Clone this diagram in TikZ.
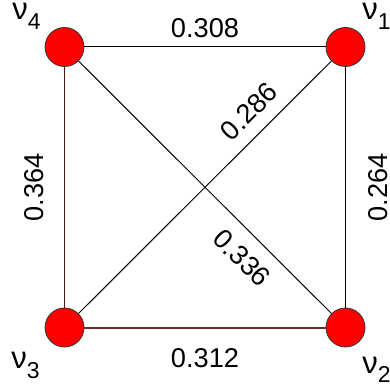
\documentclass[tikz,border=0pt]{standalone}
\usepackage{fontspec}
\setmainfont{Liberation Sans}
\usepackage{xcolor}
\definecolor{cRed}  {HTML}{FF0000}
\definecolor{cBrown}{HTML}{7A2A2A}
\definecolor{cDark} {HTML}{4A1A1A}
\usepackage{tikz}
\usetikzlibrary{positioning, calc}
\newcommand{\vname}[1]{\fontsize{15.5}{17}\selectfont ν\raisebox{-5pt}{\fontsize{11.5}{13}\selectfont #1}}
\tikzset{
  vtx/.style  = {circle, draw=black!80, line width=0.4pt, fill=cRed,
                 minimum size=19.5pt, inner sep=0pt},
  vlab/.style = {anchor=base west, inner sep=0pt},
  wlab/.style = {font=\fontsize{13.6}{15}\selectfont, inner sep=0pt},
  edg/.style  = {line width=0.5pt},
}
\begin{document}
\begin{tikzpicture}[x=0.5pt, y=0.5pt]
  \useasboundingbox (0,0) rectangle (390,385);

  %% --- vertices ---
  \node[vtx] (v4) at (64.5,338)  {};
  \node[vtx] (v1) at (345.5,338) {};
  \node[vtx] (v3) at (64.5,57.5) {};
  \node[vtx] (v2) at (345.5,57.5) {};

  %% --- vertex names ---
  \node[vlab] (n4) at (12,365)  {\vname{4}};
  \node[vlab] (n1) at (362,365) {\vname{1}};
  \node[vlab] (n3) at (11,17)   {\vname{3}};
  \node[vlab] (n2) at (362,12)  {\vname{2}};

  %% --- weighted edges ---
  \draw[edg] (v4) -- node[wlab, above=4.3pt] (w41) {0.308} (v1);
  \draw[edg, draw=cBrown, line width=1pt] (v3) -- node[wlab, below=10pt] (w32) {0.312} (v2);
  \draw[edg, draw=cDark] (v3) -- node[wlab, sloped, above=10pt] (w34) {0.364} (v4);
  \draw[edg] (v2) -- node[wlab, sloped, below=11.2pt] (w21) {0.264} (v1);
  \draw[edg] (v3) -- node[wlab, sloped, pos=0.737, above=6.3pt] (w31) {0.286} (v1);
  \draw[edg] (v4) -- node[wlab, sloped, pos=0.713, below=6.9pt] (w42) {0.336} (v2);

\end{tikzpicture}
\end{document}
